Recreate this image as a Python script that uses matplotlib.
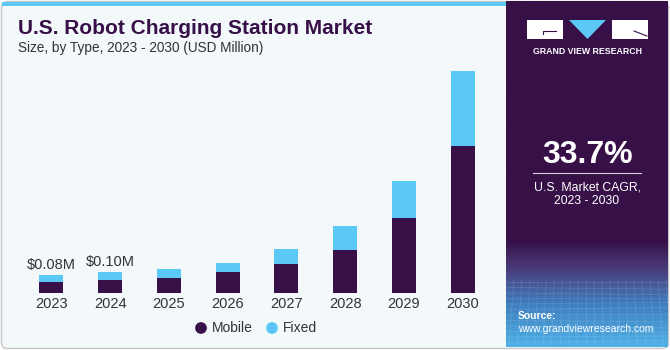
import numpy as np
import matplotlib.pyplot as plt
from matplotlib.patches import FancyBboxPatch, Rectangle, Polygon
from matplotlib.colors import LinearSegmentedColormap

# ---------- DATA ----------
years = ["2023", "2024", "2025", "2026", "2027", "2028", "2029", "2030"]
mobile = [0.054, 0.063, 0.072, 0.097, 0.133, 0.199, 0.345, 0.678]
fixed = [0.029, 0.034, 0.041, 0.044, 0.071, 0.111, 0.173, 0.345]
value_labels = {0: "$0.08M", 1: "$0.10M"}

DARK = "#371047"
BLUE = "#5bc8f5"
BG = "#f3f8fb"
TXT = "#333333"

plt.rcParams['font.family'] = ['Liberation Sans', 'DejaVu Sans']

fig = plt.figure(figsize=(6.7, 3.5), dpi=100)
W, H = 670, 350


def fx(px):
    return px / W


def fy(py):
    return 1 - py / H


# ---------- BACKGROUND / FRAME ----------
bg = fig.add_axes([0, 0, 1, 1], zorder=0)
bg.set_xlim(0, W)
bg.set_ylim(H, 0)
bg.axis("off")
bg.add_patch(FancyBboxPatch((1.5, 1.5), W - 3, H - 3, boxstyle="round,pad=0,rounding_size=6",
                            facecolor=BG, edgecolor="#c8c8c8", linewidth=1))
bg.add_patch(Rectangle((2, 1.5), 504, 4.5, facecolor=BLUE, edgecolor="none"))

# right panel with gradient at the bottom
cmap = LinearSegmentedColormap.from_list("p", [DARK, "#4a3c7a", "#3f7fc0", "#4fb0e6"])
t = np.linspace(0, 1, 350)
vals = np.clip((t - 0.70) / 0.30, 0, 1) ** 0.8
bg.imshow(vals[:, None], extent=(506, 668, 347, 1.5), cmap=cmap, vmin=0, vmax=1, aspect="auto", zorder=1)
bg.add_patch(FancyBboxPatch((640, 1.5), 28, 20, boxstyle="round,pad=0,rounding_size=6",
                            facecolor=DARK, edgecolor="none", zorder=1))

# faint mesh in the bottom part of the panel
for k in range(12):
    y = 282 + k * 5.5
    bg.plot([506, 668], [y, y + 2 * np.sin(k)], color="white", alpha=0.12, lw=0.6, zorder=2)
for k in range(22):
    x0 = 506 + k * 8
    bg.plot([x0, x0 - 6 + k * 0.6], [280, 347], color="white", alpha=0.12, lw=0.6, zorder=2)

# ---------- TITLE ----------
fig.text(fx(18), fy(29), "U.S. Robot Charging Station Market", fontsize=15, fontweight="heavy",
         color=DARK, va="center", ha="left")
fig.text(fx(18), fy(48), "Size, by Type, 2023 - 2030 (USD Million)", fontsize=9.8,
         color=TXT, va="center", ha="left")

# ---------- BARS ----------
ax = fig.add_axes([fx(22), fy(293.3), fx(470), (293.3 - 60) / H], zorder=3)
ax.patch.set_alpha(0)
x = np.arange(len(years))
ax.bar(x, mobile, width=0.41, color=DARK, edgecolor="none")
ax.bar(x, fixed, width=0.41, bottom=mobile, color=BLUE, edgecolor="none")
ax.set_xlim(-0.5, 7.5)
ax.set_ylim(0, 1.073)
ax.set_yticks([])
ax.set_xticks(x)
ax.set_xticklabels(years, fontsize=10.5, color=TXT)
ax.tick_params(axis="x", length=0, pad=3)
for s in ax.spines.values():
    s.set_visible(False)
for i, lab in value_labels.items():
    ax.annotate(lab, (x[i], mobile[i] + fixed[i]), xytext=(0, 2.5), textcoords="offset points",
                ha="center", va="bottom", fontsize=10.5, color=TXT)

# legend
bg.scatter([201, 272], [328, 328], s=55, c=[DARK, BLUE], zorder=4)
fig.text(fx(212), fy(327.5), "Mobile", fontsize=10, color=TXT, ha="left", va="center")
fig.text(fx(283), fy(327.5), "Fixed", fontsize=10, color=TXT, ha="left", va="center")

# ---------- RIGHT PANEL TEXT ----------
bg.add_patch(Rectangle((527, 20), 36, 19, facecolor="white", edgecolor="none", zorder=3))
bg.add_patch(Polygon([(569, 20), (606, 20), (587.5, 39)], facecolor=BLUE, edgecolor="none", zorder=3))
bg.add_patch(Rectangle((612, 20), 36, 19, facecolor="white", edgecolor="none", zorder=3))
bg.plot([543, 543, 556], [34, 31, 31], color=DARK, lw=0.8, zorder=4)
bg.plot([634, 647], [31, 36], color=DARK, lw=0.8, zorder=4)
bg.text(587.5, 51, "GRAND VIEW RESEARCH", fontsize=6.3, fontweight="bold", color="white",
        ha="center", va="center", zorder=4)

bg.text(588, 155, "33.7%", fontsize=23, fontweight="bold", color="white", ha="center", va="center", zorder=4)
bg.plot([533, 641], [173, 173], color="#d8d0e0", lw=0.8, zorder=4)
bg.text(587, 187, "U.S. Market CAGR,", fontsize=8.8, color="white", ha="center", va="center", zorder=4)
bg.text(587, 201, "2023 - 2030", fontsize=8.8, color="white", ha="center", va="center", zorder=4)

bg.text(518, 316, "Source:", fontsize=7.5, fontweight="bold", color="white", ha="left", va="center", zorder=4)
bg.text(518, 329, "www.grandviewresearch.com", fontsize=7.5, color="white", ha="left", va="center", zorder=4)

fig.savefig("out.png", dpi=100)
